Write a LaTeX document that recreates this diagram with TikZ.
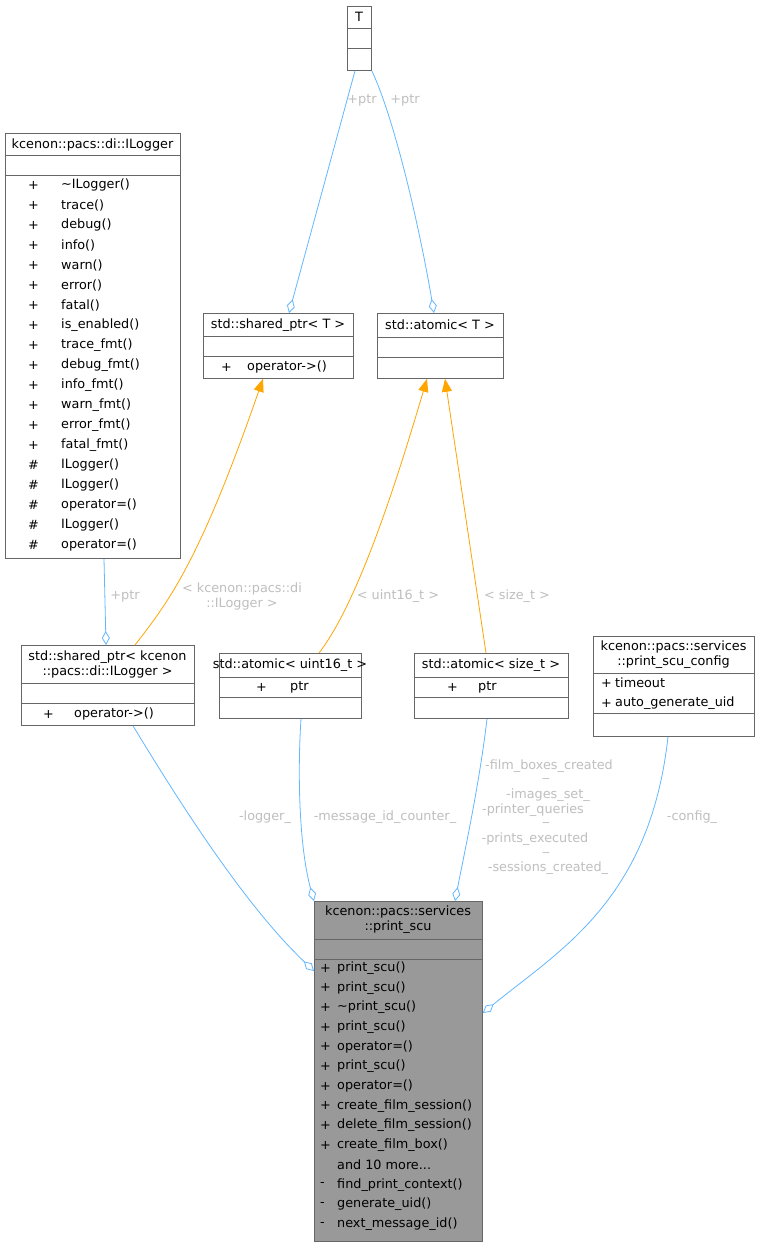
\documentclass[tikz,border=0pt]{standalone}
\usepackage{fontspec}
\setmainfont{DejaVu Sans}
\usetikzlibrary{arrows.meta,calc}
\definecolor{eblue}{HTML}{63B8FF}
\definecolor{eorange}{HTML}{FFA500}
\definecolor{lgray}{HTML}{BFBFBF}
\definecolor{pgray}{HTML}{999999}
\definecolor{bord}{HTML}{666666}
\newcommand\myandmore{and 10 more...}
\begin{document}
\begin{tikzpicture}[x=1pt,y=-1pt,
  box/.style={draw=bord,line width=0.8pt,fill=white,rectangle,inner sep=0,anchor=north west},
  sep/.style={draw=bord,line width=0.8pt},
  txt/.style={font=\fontsize{12.8}{15}\selectfont,inner sep=0,align=center},
  mem/.style={font=\fontsize{12.8}{15}\selectfont,inner sep=0,anchor=west},
  lab/.style={font=\fontsize{12.8}{15}\selectfont,text=lgray,inner sep=0,align=center},
  agg/.style={draw=eblue,line width=0.8pt,-{Diamond[open,length=14pt,width=8pt,fill=white]}},
  inh/.style={draw=eorange,line width=0.8pt,-{Triangle[length=13pt,width=10pt,fill=eorange]}}]
\useasboundingbox (0,0) rectangle (760,1247);
\fill[white] (0,0) rectangle (760,1247);

% T
\node[box,minimum width=24pt,minimum height=64pt] (T) at (347,6) {};
\draw[sep] (347,28)--(371,28) (347,48)--(371,48);
\node[txt] (Tt) at (359,17) {T};

% ILogger
\node[box,minimum width=175pt,minimum height=425pt] (IL) at (5,133) {};
\draw[sep] (5,155)--(180,155) (5,175)--(180,175);
\node[txt] (ILt) at (92.5,145) {kcenon::pacs::di::ILogger};
\foreach \s/\n [count=\i from 0] in {+/\textasciitilde ILogger(),+/trace(),+/debug(),+/info(),+/warn(),+/error(),+/fatal(),+/is\_enabled(),+/trace\_fmt(),+/debug\_fmt(),+/info\_fmt(),+/warn\_fmt(),+/error\_fmt(),+/fatal\_fmt(),\#/ILogger(),\#/ILogger(),\#/operator=(),\#/ILogger(),\#/operator=()}{
  \node[mem] (ILs\i) at (28,185+\i*20) {\s};
  \node[mem] (ILm\i) at (61,185+\i*20) {\n};
}

% shared_ptr<T>
\node[box,minimum width=150pt,minimum height=65pt] (SP) at (203,313) {};
\draw[sep] (203,336)--(353,336) (203,356)--(353,356);
\node[txt] (SPt) at (278,325) {std::shared\_ptr< T >};
\node[mem] (SPs) at (221,367) {+};
\node[mem] (SPm) at (247,367) {operator->()};

% atomic<T>
\node[box,minimum width=126pt,minimum height=65pt] (AT) at (377,313) {};
\draw[sep] (377,337)--(503,337) (377,357)--(503,357);
\node[txt] (ATt) at (440,325) {std::atomic< T >};

% shared_ptr<ILogger>
\node[box,minimum width=173pt,minimum height=80pt] (SPL) at (21,645) {};
\draw[sep] (21,683)--(194,683) (21,703)--(194,703);
\node[txt] (SPLt) at (107.5,664) {std::shared\_ptr< kcenon\\::pacs::di::ILogger >};
\node[mem] (SPLs) at (43,714) {+};
\node[mem] (SPLm) at (74,714) {operator->()};

% atomic<uint16_t>
\node[box,minimum width=142pt,minimum height=65pt] (AU) at (219,653) {};
\draw[sep] (219,677)--(361,677) (219,697)--(361,697);
\node[txt] (AUt) at (290,665) {std::atomic< uint16\_t >};
\node[mem] (AUs) at (256,687) {+};
\node[mem] (AUm) at (290,687) {ptr};

% atomic<size_t>
\node[box,minimum width=154pt,minimum height=65pt] (AS) at (414,653) {};
\draw[sep] (414,677)--(568,677) (414,697)--(568,697);
\node[txt] (ASt) at (491,665) {std::atomic< size\_t >};
\node[mem] (ASs) at (447,687) {+};
\node[mem] (ASm) at (478,687) {ptr};

% config
\node[box,minimum width=161pt,minimum height=100pt] (CF) at (593,636) {};
\draw[sep] (593,673)--(754,673) (593,713)--(754,713);
\node[txt] (CFt) at (673.5,655) {kcenon::pacs::services\\::print\_scu\_config};
\node[mem] (CFs1) at (601,683) {+};
\node[mem] (CFm1) at (615,683) {timeout};
\node[mem] (CFs2) at (601,703) {+};
\node[mem] (CFm2) at (615,703) {auto\_generate\_uid};

% print_scu
\node[box,fill=pgray,minimum width=168pt,minimum height=340pt] (PS) at (314,901) {};
\draw[sep] (314,939)--(482,939) (314,959)--(482,959);
\node[txt] (PSt) at (398,920) {kcenon::pacs::services\\::print\_scu};
\foreach \s/\n [count=\i from 0] in {+/print\_scu(),+/print\_scu(),+/\textasciitilde print\_scu(),+/print\_scu(),+/operator=(),+/print\_scu(),+/operator=(),+/create\_film\_session(),+/delete\_film\_session(),+/create\_film\_box(),{}/\myandmore,-/find\_print\_context(),-/generate\_uid(),-/next\_message\_id()}{
  \node[mem] (PSs\i) at (320,968+\i*19.7) {\s};
  \node[mem] (PSm\i) at (337,968+\i*19.7) {\n};
}

% edges
\draw[agg] ($(T.south west)+(8,0)$) -- ($(SP.north west)+(86,0)$);
\node[lab] (l1) at (362,100) {+ptr};
\draw[agg] ($(T.south east)+(0,0)$) .. controls (395,120) and (420,230) .. ($(AT.north west)+(57,0)$);
\node[lab] (l2) at (405,100) {+ptr};
\draw[inh] ($(SPL.north west)+(114,0)$) .. controls (170,600) and (200,560) .. ($(SP.south west)+(60,0)$);
\node[lab] (l3) at (242,596) {< kcenon::pacs::di\\::ILogger >};
\draw[inh] ($(AU.north west)+(100,0)$) .. controls (360,600) and (400,470) .. ($(AT.south west)+(50,0)$);
\node[lab] (l4) at (398,596) {< uint16\_t >};
\draw[inh] ($(AS.north west)+(72,0)$) -- ($(AT.south west)+(68,0)$);
\node[lab] (l5) at (517,596) {< size\_t >};
\draw[agg] ($(IL.south west)+(99,0)$) -- ($(SPL.north west)+(85,0)$);
\node[lab] (l6) at (125,596) {+ptr};
\draw[agg] ($(SPL.south west)+(112,0)$) .. controls (190,820) and (250,910) .. ($(PS.north west)+(0,70)$);
\node[lab] (l7) at (265,817) {-logger\_};
\draw[agg] ($(AU.south west)+(82,0)$) .. controls (297,780) and (300,850) .. ($(PS.north west)+(0,0)$);
\node[lab] (l8) at (385,817) {-message\_id\_counter\_};
\draw[agg] ($(AS.south west)+(73,0)$) .. controls (480,780) and (465,850) .. ($(PS.north west)+(141,0)$);
\node[lab] (l9a) at (549,766) {-film\_boxes\_created};
\node[lab] (l9b) at (546,778) {\_};
\node[lab] (l9c) at (548,795) {-images\_set\_};
\node[lab] (l9d) at (533,810) {-printer\_queries};
\node[lab] (l9e) at (546,822) {\_};
\node[lab] (l9f) at (535,839) {-prints\_executed};
\node[lab] (l9g) at (546,852) {\_};
\node[lab] (l9h) at (548,868) {-sessions\_created\_};
\draw[agg] ($(CF.south west)+(75,0)$) .. controls (650,900) and (560,950) .. ($(PS.north east)+(0,112)$);
\node[lab] (l10) at (692,817) {-config\_};
\end{tikzpicture}
\end{document}
